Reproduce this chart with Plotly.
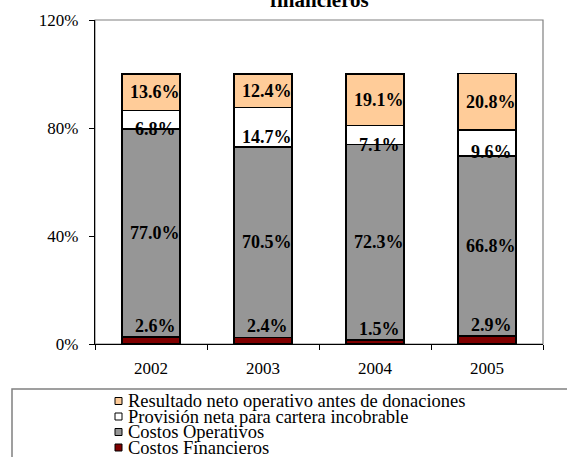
import plotly.graph_objects as go
import numpy as np

# ---- data ----
years = ["2002", "2003", "2004", "2005"]
costos_financieros = [2.6, 2.4, 1.5, 2.9]
costos_operativos = [77.0, 70.5, 72.3, 66.8]
provision_cartera = [6.8, 14.7, 7.1, 9.6]
resultado_neto = [13.6, 12.4, 19.1, 20.8]
series_names = [
    "Costos Financieros",
    "Costos Operativos",
    "Provisión neta para cartera incobrable",
    "Resultado neto operativo antes de donaciones",
]
y_tick_values = [0, 40, 80, 120]
y_tick_labels = ["0%", "40%", "80%", "120%"]
title_text = "financieros"

# ---- style ----
colors = ["#800000", "#969696", "#FFFFFF", "#FFCC99"]
W, H = 567, 457
PLOT_L, PLOT_R, PLOT_T, PLOT_B = 95, 543, 20, 344  # target screen coords
L = PLOT_L
T = PLOT_T
PW = PLOT_R - PLOT_L
PH = PLOT_B - PLOT_T
R = W - L - PW
B = H - T - PH
SERIF = "Liberation Serif, Times New Roman, serif"


def px_x(x):
    return (x - PLOT_L) / PW


def px_y(y):
    return (PLOT_B - y) / PH


series = [costos_financieros, costos_operativos, provision_cartera, resultado_neto]

fig = go.Figure()
for name, vals, col in zip(series_names, series, colors):
    fig.add_trace(go.Bar(
        x=years, y=vals, name=name,
        marker=dict(color=col, line=dict(color="black", width=1.5)),
        showlegend=False, hoverinfo="x+y+name",
    ))

# ---- value labels ----
arr = np.array(series)
cum_top = np.cumsum(arr, axis=0)
cum_bot = cum_top - arr
annotations = []
for i, yr in enumerate(years):
    for s in range(4):
        v = arr[s, i]
        center = (cum_bot[s, i] + cum_top[s, i]) / 2
        if s == 0:
            ypos = cum_top[s, i] + 4.2
        elif s == 2:
            ypos = center - 3.5
        else:
            ypos = center
        annotations.append(dict(
            x=i, y=ypos, xref="x", yref="y", text=f"<b>{v:.1f}%</b>",
            showarrow=False, xshift=4,
            font=dict(family=SERIF, size=18, color="black"),
            xanchor="center", yanchor="middle",
        ))

# ---- title (partly cut off at top) ----
annotations.append(dict(
    x=0.5, y=px_y(-0.5), xref="paper", yref="paper", text=f"<b>{title_text}</b>",
    showarrow=False, xanchor="center", yanchor="middle",
    font=dict(family=SERIF, size=21, color="black"),
))

# ---- manual legend (top to bottom) ----
shapes = []
shapes.append(dict(type="rect", xref="paper", yref="paper", x0=0, x1=1, y0=0, y1=1,
                   line=dict(color="#808080", width=1.2), fillcolor="rgba(0,0,0,0)", layer="below"))
shapes.append(dict(type="rect", xref="paper", yref="paper",
                   x0=px_x(12), x1=px_x(590), y0=px_y(490), y1=px_y(389),
                   line=dict(color="#808080", width=1.5), fillcolor="rgba(0,0,0,0)"))
leg_rows = [401, 416.5, 432, 447.5]
leg_order = [3, 2, 1, 0]
for row_y, s in zip(leg_rows, leg_order):
    shapes.append(dict(type="rect", xref="paper", yref="paper",
                       x0=px_x(115), x1=px_x(122), y0=px_y(row_y + 3.5), y1=px_y(row_y - 3.5),
                       line=dict(color="black", width=1), fillcolor=colors[s]))
    annotations.append(dict(
        x=px_x(126), y=px_y(row_y), xref="paper", yref="paper", text=series_names[s],
        showarrow=False, xanchor="left", yanchor="middle",
        font=dict(family=SERIF, size=18.5, color="black"),
    ))

fig.update_layout(
    width=W, height=H,
    margin=dict(l=L, r=R, t=T, b=B, autoexpand=False),
    barmode="stack", bargap=0.48,
    plot_bgcolor="white", paper_bgcolor="white",
    font=dict(family=SERIF, size=17, color="black"),
    xaxis=dict(type="category", range=[-0.5, 3.5], showline=True, linecolor="black", linewidth=1.2,
               ticks="outside", tickson="boundaries", ticklen=5, tickcolor="black",
               showgrid=False, ticklabelstandoff=8, automargin=False,
               tickfont=dict(family=SERIF, size=17, color="black")),
    yaxis=dict(range=[0, 120], tickvals=y_tick_values, ticktext=y_tick_labels,
               showline=True, linecolor="black", linewidth=1.2,
               ticks="outside", ticklen=5, tickcolor="black", showgrid=False,
               zeroline=False, ticklabelstandoff=7, automargin=False,
               tickfont=dict(family=SERIF, size=17, color="black")),
    annotations=annotations, shapes=shapes,
)

fig.write_html("out.html", config={"displayModeBar": False},
               post_script="document.body.style.margin='0';")
